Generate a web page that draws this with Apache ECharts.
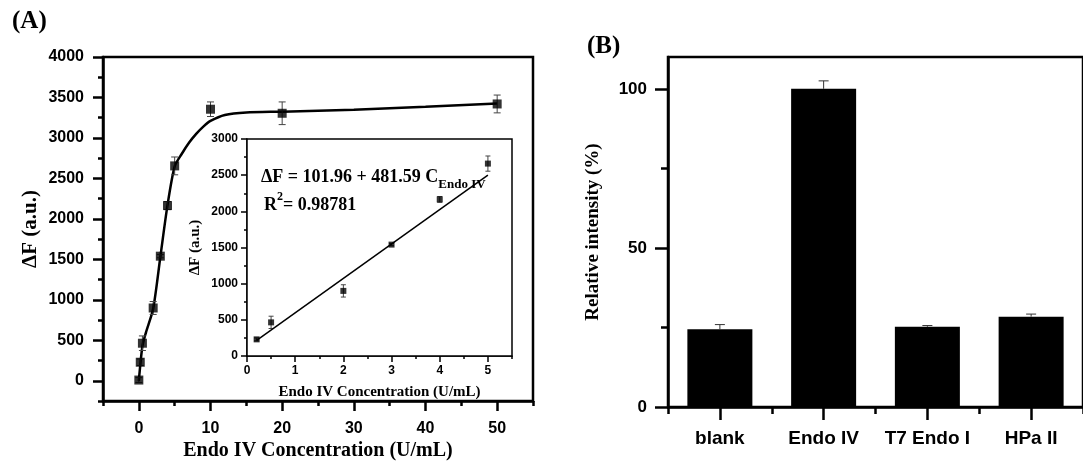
<!DOCTYPE html>
<html>
<head>
<meta charset="utf-8">
<script src="https://cdn.jsdelivr.net/npm/echarts@6/dist/echarts.min.js"></script>
<style>
  html, body { margin: 0; padding: 0; background: #fff; }
  #echartsView { width: 1083px; height: 466px; }
</style>
</head>
<body>
<div id="echartsView"></div>
<script>
// panel A, main plot
var mainConc = [0, 0.2, 0.5, 2, 3, 4, 5, 10, 20, 50];
var mainDF = [10, 230, 465, 900, 1540, 2165, 2655, 3355, 3305, 3420];
var mainErr = [30, 40, 90, 80, 20, 50, 110, 90, 140, 110];
// fitted curve
var curveConc = [0, 0.5, 1, 2, 3, 4, 5, 6, 7, 8, 9, 10, 12, 15, 20, 30, 40, 50];
var curveDF = [0, 430, 600, 890, 1530, 2170, 2650, 2805, 2940, 3050, 3140, 3210, 3284, 3315, 3325, 3350, 3385, 3425];
var mainXTicks = [0, 10, 20, 30, 40, 50];
var mainXMinor = [-5, 5, 15, 25, 35, 45, 55];
var mainYTicks = [0, 500, 1000, 1500, 2000, 2500, 3000, 3500, 4000];
var mainYMinor = [-250, 250, 750, 1250, 1750, 2250, 2750, 3250, 3750];

// panel A, inset
var insetConc = [0.2, 0.5, 2, 3, 4, 5];
var insetDF = [230, 465, 900, 1540, 2165, 2660];
var insetErr = [20, 85, 85, 15, 40, 105];
var fitConc = [0.2, 5];
var fitDF = [215, 2500];
var insetXTicks = [0, 1, 2, 3, 4, 5];
var insetXMinor = [0.5, 1.5, 2.5, 3.5, 4.5, 5.5];
var insetYTicks = [0, 500, 1000, 1500, 2000, 2500, 3000];
var insetYMinor = [250, 750, 1250, 1750, 2250, 2750];

// panel B
var enzymes = ['blank', 'Endo IV', 'T7 Endo I', 'HPa II'];
var relInt = [24.4, 100, 25.2, 28.4];
var relErr = [1.5, 2.5, 0.4, 0.8];
var barYTicks = [0, 50, 100];
var barYMinor = [25, 75];

var SANS = 'Liberation Sans';
var SERIF = 'Liberation Serif';

var myChart = echarts.init(document.getElementById('echartsView'));

function zip3(a, b, c) {
	return a.map(function (v, i) { return [v, b[i], c[i]]; });
}
function zip2(a, b) {
	return a.map(function (v, i) { return [v, b[i]]; });
}

function errBars(cap, color, upOnly) {
	return function (params, api) {
		var x = api.value(0), y = api.value(1), e = api.value(2);
		var lo = api.coord([x, upOnly ? y : y - e]);
		var hi = api.coord([x, y + e]);
		var st = { stroke: color, lineWidth: 1 };
		var kids = [
			{ type: 'line', shape: { x1: lo[0], y1: lo[1], x2: hi[0], y2: hi[1] }, style: st },
			{ type: 'line', shape: { x1: hi[0] - cap, y1: hi[1], x2: hi[0] + cap, y2: hi[1] }, style: st }
		];
		if (!upOnly) {
			kids.push({ type: 'line', shape: { x1: lo[0] - cap, y1: lo[1], x2: lo[0] + cap, y2: lo[1] }, style: st });
		}
		return { type: 'group', children: kids };
	};
}

function valAxis(grid, pos, min, max, ticks, len, width, labelSize, margin, showLine) {
	return {
		type: 'value', gridIndex: grid, position: pos, min: min, max: max,
		axisLine: { show: showLine, onZero: false, lineStyle: { color: '#000', width: width } },
		axisTick: { show: true, inside: false, length: len, customValues: ticks, lineStyle: { color: '#000', width: width } },
		axisLabel: labelSize ? {
			show: true, customValues: ticks, margin: margin, color: '#000',
			fontFamily: SANS, fontWeight: 'bold', fontSize: labelSize,
			formatter: function (v) { return String(v); }
		} : { show: false },
		splitLine: { show: false }
	};
}

var option = {
	animation: false,
	backgroundColor: '#fff',
	title: [
		{ text: '(A)', left: 7, top: 4, textStyle: { fontFamily: SERIF, fontWeight: 'bold', fontSize: 25, color: '#000' } },
		{ text: '(B)', left: 582, top: 29, textStyle: { fontFamily: SERIF, fontWeight: 'bold', fontSize: 25, color: '#000' } },
		{
			text: '{a|ΔF = 101.96 + 481.59 C}{b|Endo IV}', left: 256, top: 158,
			textStyle: {
				rich: {
					a: { fontFamily: SERIF, fontWeight: 'bold', fontSize: 18, color: '#000', lineHeight: 28, verticalAlign: 'middle' },
					b: { fontFamily: SERIF, fontWeight: 'bold', fontSize: 13, color: '#000', lineHeight: 28, verticalAlign: 'bottom' }
				}
			}
		},
		{
			text: '{a|R}{s|2}{a|= 0.98781}', left: 259, top: 186,
			textStyle: {
				rich: {
					a: { fontFamily: SERIF, fontWeight: 'bold', fontSize: 18, color: '#000', lineHeight: 28, verticalAlign: 'middle' },
					s: { fontFamily: SERIF, fontWeight: 'bold', fontSize: 12, color: '#000', lineHeight: 28, verticalAlign: 'top' }
				}
			}
		}
	],
	grid: [
		{ left: 103, top: 57, width: 430, height: 349, show: true, borderColor: '#000', borderWidth: 2.5, backgroundColor: 'transparent' },
		{ left: 247, top: 139, width: 265, height: 217, show: true, borderColor: '#000', borderWidth: 1.5, backgroundColor: '#fff', z: 3 },
		{ left: 668, top: 57, width: 428, height: 350, show: true, borderColor: '#000', borderWidth: 2.5, backgroundColor: 'transparent' }
	],
	xAxis: [
		Object.assign(valAxis(0, 'bottom', -5, 55, mainXTicks, 10, 2.5, 16, 19, true), {
			name: 'Endo IV Concentration (U/mL)', nameLocation: 'middle', nameGap: 38,
			nameTextStyle: { fontFamily: SERIF, fontWeight: 'bold', fontSize: 20, color: '#000' }
		}),
		valAxis(0, 'bottom', -5, 55, mainXMinor, 5, 2.5, 0, 0, false),
		Object.assign(valAxis(1, 'bottom', 0, 5.5, insetXTicks, 6, 1.5, 12, 9, true), {
			name: 'Endo IV Concentration (U/mL)', nameLocation: 'middle', nameGap: 29,
			nameTextStyle: { fontFamily: SERIF, fontWeight: 'bold', fontSize: 15, color: '#000' }
		}),
		valAxis(1, 'bottom', 0, 5.5, insetXMinor, 3, 1.5, 0, 0, false),
		{
			type: 'category', gridIndex: 2, position: 'bottom', data: enzymes,
			axisLine: { show: true, onZero: false, lineStyle: { color: '#000', width: 2.5 } },
			axisTick: { show: true, alignWithLabel: true, interval: 0, length: 13, lineStyle: { color: '#000', width: 2.5 } },
			axisLabel: { interval: 0, hideOverlap: false, margin: 22, color: '#000', fontFamily: SANS, fontWeight: 'bold', fontSize: 19 }
		},
		{
			type: 'category', gridIndex: 2, position: 'bottom', data: enzymes,
			axisLine: { show: false, onZero: false },
			axisTick: { show: true, interval: 0, length: 7, lineStyle: { color: '#000', width: 2.5 } },
			axisLabel: { show: false }
		}
	],
	yAxis: [
		Object.assign(valAxis(0, 'left', -250, 4000, mainYTicks, 10, 2.5, 16, 19, true), {
			name: 'ΔF (a.u.)', nameLocation: 'middle', nameGap: 62,
			nameTextStyle: { fontFamily: SERIF, fontWeight: 'bold', fontSize: 21, color: '#000' }
		}),
		valAxis(0, 'left', -250, 4000, mainYMinor, 5, 2.5, 0, 0, false),
		Object.assign(valAxis(1, 'left', 0, 3000, insetYTicks, 6, 1.5, 12, 9, true), {
			name: 'ΔF (a.u.)', nameLocation: 'middle', nameGap: 44,
			nameTextStyle: { fontFamily: SERIF, fontWeight: 'bold', fontSize: 15, color: '#000' }
		}),
		valAxis(1, 'left', 0, 3000, insetYMinor, 3, 1.5, 0, 0, false),
		Object.assign(valAxis(2, 'left', 0, 110, barYTicks, 13, 2.5, 17, 21, true), {
			name: 'Relative intensity (%)', nameLocation: 'middle', nameGap: 65,
			nameTextStyle: { fontFamily: SERIF, fontWeight: 'bold', fontSize: 19, color: '#000' }
		}),
		valAxis(2, 'left', 0, 110, barYMinor, 7, 2.5, 0, 0, false)
	],
	series: [
		{
			type: 'line', xAxisIndex: 0, yAxisIndex: 0, data: zip2(curveConc, curveDF),
			smooth: 0.25, showSymbol: false, lineStyle: { color: '#000', width: 2.5 }, z: 2
		},
		{
			type: 'custom', xAxisIndex: 0, yAxisIndex: 0, data: zip3(mainConc, mainDF, mainErr),
			renderItem: errBars(3.5, '#444', false), z: 3
		},
		{
			type: 'scatter', xAxisIndex: 0, yAxisIndex: 0, data: zip2(mainConc, mainDF),
			symbol: 'rect', symbolSize: 9, itemStyle: { color: '#000' }, z: 4
		},
		{
			type: 'line', xAxisIndex: 2, yAxisIndex: 2, data: zip2(fitConc, fitDF),
			showSymbol: false, lineStyle: { color: '#000', width: 1.5 }, z: 5
		},
		{
			type: 'custom', xAxisIndex: 2, yAxisIndex: 2, data: zip3(insetConc, insetDF, insetErr),
			renderItem: errBars(2.5, '#444', false), z: 5
		},
		{
			type: 'scatter', xAxisIndex: 2, yAxisIndex: 2, data: zip2(insetConc, insetDF),
			symbol: 'rect', symbolSize: 6, itemStyle: { color: '#000' }, z: 6
		},
		{
			type: 'bar', xAxisIndex: 4, yAxisIndex: 4, data: relInt, barWidth: 65,
			itemStyle: { color: '#000' }
		},
		{
			type: 'custom', xAxisIndex: 4, yAxisIndex: 4,
			data: enzymes.map(function (n, i) { return [i, relInt[i], relErr[i]]; }),
			renderItem: errBars(5, '#333', true), z: 3
		}
	]
};

myChart.setOption(option);
</script>
</body>
</html>
